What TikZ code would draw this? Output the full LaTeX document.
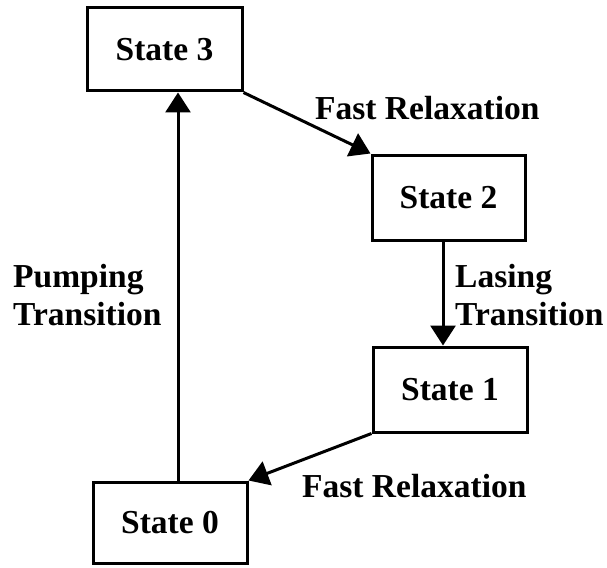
\documentclass[tikz,border=0pt]{standalone}
\usepackage{fontspec}
\setmainfont{Liberation Serif}
\usetikzlibrary{arrows.meta}
\begin{document}
\begin{tikzpicture}[x=1pt,y=-1pt,
  statebox/.style={draw,line width=3pt,rectangle,inner sep=0pt,font=\fontsize{33.5}{38}\bfseries\selectfont},
  lbl/.style={inner sep=0pt,align=left,font=\fontsize{33.5}{38}\bfseries\selectfont},
  conn/.style={line width=3pt,-{Triangle[length=20pt,width=25pt]}}]
\useasboundingbox (0,0) rectangle (607,567);
\node[statebox,minimum width=155pt,minimum height=83pt] (s3) at (164.5,49.5) {State 3};
\node[statebox,minimum width=153pt,minimum height=85pt] (s2) at (448.5,197.5) {State 2};
\node[statebox,minimum width=154pt,minimum height=85pt] (s1) at (450,389.5) {State 1};
\node[statebox,minimum width=154pt,minimum height=81pt] (s0) at (170,522.5) {State 0};
\coordinate (xl) at (178,0);
\coordinate (xr) at (443,0);
\draw[conn] (s3.south east) -- (s2.north west);
\draw[conn] (s2.south -| xr) -- (s1.north -| xr);
\draw[conn] (s1.south west) -- (s0.north east);
\draw[conn] (s0.north -| xl) -- (s3.south -| xl);
\node[lbl,anchor=base west] (l1) at (315,120) {Fast Relaxation};
\node[lbl,anchor=base west] (l2) at (455,325) {Lasing\\Transition};
\node[lbl,anchor=base west] (l3) at (302,497) {Fast Relaxation};
\node[lbl,anchor=base west] (l4) at (13,325) {Pumping\\Transition};
\end{tikzpicture}
\end{document}
